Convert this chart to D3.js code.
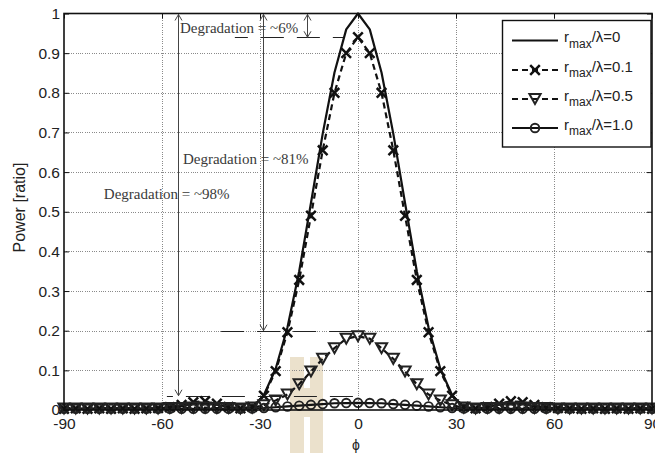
<!DOCTYPE html>
<html>
<head>
<meta charset="utf-8">
<script src="https://cdn.jsdelivr.net/npm/d3@7"></script>
<style>
  html, body { margin: 0; padding: 0; background: #fff; }
  svg { display: block; }
</style>
</head>
<body>
<div id="chart"></div>
<script>
// Steering angle samples (degrees)
const phi = [-90, -86.4, -82.8, -79.2, -75.6, -72, -68.4, -64.8, -61.2, -57.6,
  -54, -50.4, -46.8, -43.2, -39.6, -36, -32.4, -28.8, -25.2, -21.6,
  -18, -14.4, -10.8, -7.2, -3.6, 0, 3.6, 7.2, 10.8, 14.4,
  18, 21.6, 25.2, 28.8, 32.4, 36, 39.6, 43.2, 46.8, 50.4,
  54, 57.6, 61.2, 64.8, 68.4, 72, 75.6, 79.2, 82.8, 86.4, 90];

// Normalised received power for each r_max/λ
const power_r0 = [0.003, 0.004, 0.003, 0.004, 0.003, 0.004, 0.003, 0.004, 0.005, 0.006,
  0.010, 0.016, 0.018, 0.014, 0.007, 0.003, 0.006, 0.038, 0.104, 0.208,
  0.350, 0.522, 0.697, 0.851, 0.960, 1.000, 0.960, 0.851, 0.697, 0.522,
  0.350, 0.208, 0.104, 0.038, 0.006, 0.003, 0.007, 0.014, 0.018, 0.016,
  0.010, 0.006, 0.005, 0.004, 0.003, 0.004, 0.003, 0.004, 0.003, 0.004, 0.003];

const power_r01 = [0.003, 0.004, 0.003, 0.004, 0.003, 0.004, 0.003, 0.004, 0.005, 0.007,
  0.013, 0.020, 0.022, 0.016, 0.008, 0.004, 0.008, 0.036, 0.098, 0.196,
  0.328, 0.490, 0.655, 0.800, 0.900, 0.940, 0.900, 0.800, 0.655, 0.490,
  0.328, 0.196, 0.098, 0.036, 0.008, 0.004, 0.008, 0.016, 0.022, 0.020,
  0.013, 0.007, 0.005, 0.004, 0.003, 0.004, 0.003, 0.004, 0.003, 0.004, 0.003];

const power_r05 = [0.004, 0.004, 0.004, 0.004, 0.004, 0.004, 0.004, 0.004, 0.004, 0.005,
  0.005, 0.006, 0.006, 0.005, 0.005, 0.004, 0.006, 0.012, 0.024, 0.039,
  0.065, 0.097, 0.129, 0.156, 0.180, 0.186, 0.180, 0.156, 0.129, 0.097,
  0.065, 0.039, 0.024, 0.012, 0.006, 0.004, 0.005, 0.005, 0.006, 0.006,
  0.005, 0.005, 0.004, 0.004, 0.004, 0.004, 0.004, 0.004, 0.004, 0.004, 0.004];

const power_r10 = [0.003, 0.003, 0.003, 0.003, 0.003, 0.003, 0.003, 0.003, 0.003, 0.003,
  0.003, 0.003, 0.003, 0.003, 0.003, 0.003, 0.004, 0.005, 0.007, 0.009,
  0.011, 0.013, 0.015, 0.017, 0.0175, 0.018, 0.0175, 0.017, 0.015, 0.013,
  0.011, 0.009, 0.007, 0.005, 0.004, 0.003, 0.003, 0.003, 0.003, 0.003,
  0.003, 0.003, 0.003, 0.003, 0.003, 0.003, 0.003, 0.003, 0.003, 0.003, 0.003];

const seriesValues = [power_r0, power_r01, power_r05, power_r10];
const seriesSub = ["0", "0.1", "0.5", "1.0"];
const seriesMarker = ["none", "x", "tri", "circle"];
const seriesDashed = [false, true, true, false];

const xTicks = [-90, -60, -30, 0, 30, 60, 90];
const yTicks = [0, 0.1, 0.2, 0.3, 0.4, 0.5, 0.6, 0.7, 0.8, 0.9, 1];

// Degradation annotations: reference level, arrow angle, label
const degradeLevels = [0.94, 0.20, 0.036];
const degradeArrowPhi = [-15.6, -29.1, -55.1];
const degradeLineFrom = [-37.7, -41.9, -58.5];
const degradeLineTo = [-4.0, -1.5, -1.5];
const degradeLineOffset = [10, 0, 17];
const degradeLabels = ["Degradation = ~6%", "Degradation = ~81%", "Degradation = ~98%"];
const degradeLabelPhi = [-54.5, -53.6, -77.8];
const degradeLabelY = [0.951, 0.620, 0.533];

const W = 655, H = 453;
const svg = d3.select("#chart").append("svg").attr("width", W).attr("height", H);
svg.append("rect").attr("width", W).attr("height", H).attr("fill", "#fff");

const x = d3.scaleLinear().domain([-90, 90]).range([64, 652]);
const y = d3.scaleLinear().domain([0, 1]).range([410, 13.5]);

// faint watermark glyph
svg.append("path")
  .attr("d", "M290,357 H304 V388 H310 V357 H323 V453 H310 V417 H304 V453 H290 Z")
  .attr("fill", "#ebe1cc");

// grid
const grid = svg.append("g").attr("stroke", "#8a8a8a").attr("stroke-width", 1)
  .attr("stroke-dasharray", "1,1.3").attr("shape-rendering", "crispEdges");
grid.selectAll(".gx").data(xTicks.slice(1, -1)).join("line")
  .attr("x1", d => Math.round(x(d)) + 0.5).attr("x2", d => Math.round(x(d)) + 0.5)
  .attr("y1", y(1)).attr("y2", y(0));
grid.selectAll(".gy").data(yTicks.slice(1, -1)).join("line")
  .attr("x1", x(-90)).attr("x2", x(90))
  .attr("y1", d => Math.round(y(d)) + 0.5).attr("y2", d => Math.round(y(d)) + 0.5);

// annotation: dashed reference levels
const ann = svg.append("g");
degradeLevels.forEach((lv, i) => {
  ann.append("line")
    .attr("x1", x(degradeLineFrom[i])).attr("x2", x(degradeLineTo[i]))
    .attr("y1", Math.round(y(lv)) + 0.5).attr("y2", Math.round(y(lv)) + 0.5)
    .attr("stroke", "#222").attr("stroke-width", 1.2)
    .attr("stroke-dasharray", "23,13").attr("stroke-dashoffset", degradeLineOffset[i]);
});

// annotation: double-headed arrows from full power down to each level
degradeLevels.forEach((lv, i) => {
  const ax = Math.round(x(degradeArrowPhi[i])) + 0.5;
  const y0 = y(1) + 1, y1 = y(lv);
  ann.append("line").attr("x1", ax).attr("x2", ax).attr("y1", y0).attr("y2", y1)
    .attr("stroke", "#444").attr("stroke-width", 1);
  ann.append("path")
    .attr("d", `M${ax - 3.5},${y0 + 6} L${ax},${y0} L${ax + 3.5},${y0 + 6}` +
               `M${ax - 3.5},${y1 - 6} L${ax},${y1} L${ax + 3.5},${y1 - 6}`)
    .attr("fill", "none").attr("stroke", "#444").attr("stroke-width", 1);
});

// annotation labels
degradeLabels.forEach((t, i) => {
  svg.append("text")
    .attr("x", x(degradeLabelPhi[i])).attr("y", y(degradeLabelY[i]))
    .attr("font-family", "'Liberation Serif', 'Times New Roman', serif")
    .attr("font-size", 15).attr("fill", "#3a3a3a")
    .text(t);
});

// series lines
const line = d3.line().x((d, i) => x(phi[i])).y(d => y(d));
const plot = svg.append("g");
seriesValues.forEach((vals, s) => {
  plot.append("path").datum(vals).attr("d", line)
    .attr("fill", "none").attr("stroke", "#111").attr("stroke-width", 2.2)
    .attr("stroke-linejoin", "round")
    .attr("stroke-dasharray", seriesDashed[s] ? "6,4" : null);
});

// marker drawing helpers
function drawMarker(g, kind, cx, cy) {
  if (kind === "x") {
    const r = 4.8;
    g.append("path").attr("d", `M${cx - r},${cy - r}L${cx + r},${cy + r}M${cx - r},${cy + r}L${cx + r},${cy - r}`)
      .attr("stroke", "#111").attr("stroke-width", 2.5).attr("fill", "none");
  } else if (kind === "tri") {
    const w = 5.6, h = 5.0;
    g.append("path").attr("d", `M${cx - w},${cy - h}L${cx + w},${cy - h}L${cx},${cy + h}Z`)
      .attr("stroke", "#222").attr("stroke-width", 2).attr("fill", "none")
      .attr("stroke-linejoin", "miter");
  } else if (kind === "circle") {
    g.append("circle").attr("cx", cx).attr("cy", cy).attr("r", 4.3)
      .attr("stroke", "#222").attr("stroke-width", 1.9).attr("fill", "none");
  }
}
seriesValues.forEach((vals, s) => {
  if (seriesMarker[s] === "none") return;
  const g = plot.append("g");
  vals.forEach((v, i) => drawMarker(g, seriesMarker[s], x(phi[i]), y(v)));
});

// axes with inward ticks, boxed
const fontSans = "'Liberation Sans', Arial, Helvetica, sans-serif";
const xAxis = d3.axisBottom(x).tickValues(xTicks).tickSize(-5).tickPadding(7.5).tickFormat(d => String(d));
const yAxis = d3.axisLeft(y).tickValues(yTicks).tickSize(-5).tickPadding(4).tickFormat(d => String(d));
const gx = svg.append("g").attr("transform", `translate(0,${y(0)})`).call(xAxis);
const gy = svg.append("g").attr("transform", `translate(${x(-90)},0)`).call(yAxis);
const gxt = svg.append("g").attr("transform", `translate(0,${y(1)})`)
  .call(d3.axisTop(x).tickValues(xTicks).tickSize(-5).tickFormat(""));
const gyr = svg.append("g").attr("transform", `translate(${x(90)},0)`)
  .call(d3.axisRight(y).tickValues(yTicks).tickSize(-5).tickFormat(""));
[gx, gy, gxt, gyr].forEach(g => {
  g.select(".domain").remove();
  g.selectAll(".tick line").attr("stroke", "#111").attr("stroke-width", 1);
  g.selectAll("text").attr("font-family", fontSans).attr("font-size", 15.5).attr("fill", "#222");
});
svg.append("rect").attr("x", x(-90)).attr("y", y(1))
  .attr("width", x(90) - x(-90)).attr("height", y(0) - y(1))
  .attr("fill", "none").attr("stroke", "#111").attr("stroke-width", 1.6);

// axis titles
svg.append("text").attr("transform", `translate(25,${207.5}) rotate(-90)`)
  .attr("text-anchor", "middle").attr("font-family", fontSans).attr("font-size", 16)
  .attr("fill", "#222").text("Power [ratio]");
svg.append("text").attr("x", x(0) - 2).attr("y", 450)
  .attr("text-anchor", "middle").attr("font-family", fontSans).attr("font-size", 14)
  .attr("fill", "#222").text("\u03D5");

// legend
const leg = svg.append("g");
leg.append("rect").attr("x", 502.5).attr("y", 20.5).attr("width", 148.5).attr("height", 126.5)
  .attr("fill", "#fff").attr("stroke", "#111").attr("stroke-width", 1.4);
const rowY = [40.5, 70, 99, 128];
seriesValues.forEach((vals, s) => {
  const ry = rowY[s];
  leg.append("line").attr("x1", 512).attr("x2", 558).attr("y1", ry).attr("y2", ry)
    .attr("stroke", "#111").attr("stroke-width", 2.2)
    .attr("stroke-dasharray", seriesDashed[s] ? "6,4" : null);
  drawMarker(leg, seriesMarker[s], 535, ry);
  const t = leg.append("text").attr("x", 564).attr("y", ry + 1.5)
    .attr("font-family", fontSans).attr("font-size", 15).attr("fill", "#222");
  t.append("tspan").text("r");
  t.append("tspan").attr("dy", 5.5).attr("font-size", 12).text("max");
  t.append("tspan").attr("dy", -5.5).text("/\u03BB=" + seriesSub[s]);
});
</script>
</body>
</html>
